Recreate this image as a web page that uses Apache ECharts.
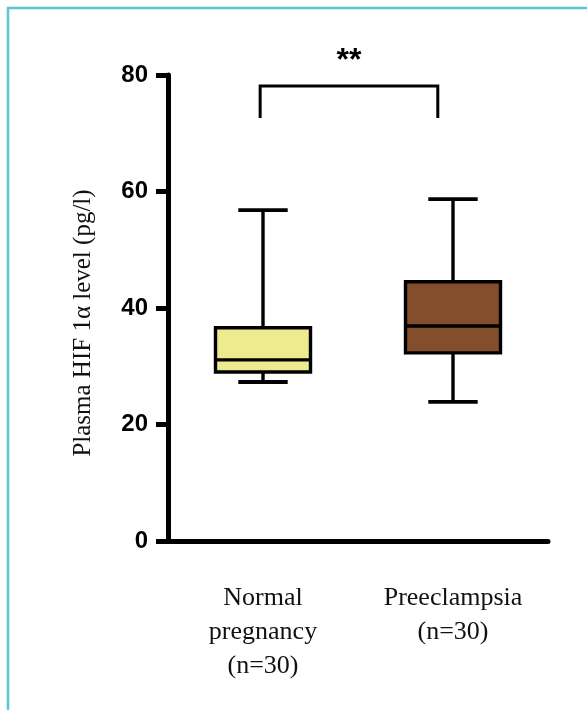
<!DOCTYPE html>
<html>
<head>
<meta charset="utf-8">
<script src="https://cdn.jsdelivr.net/npm/echarts@6/dist/echarts.min.js"></script>
<style>
  html, body { margin: 0; padding: 0; background: #fff; }
  #chart { width: 587px; height: 710px; }
</style>
</head>
<body>
<div id="chart"></div>
<script>
// groups on the x axis
const groups = ['Normal\npregnancy\n(n=30)', 'Preeclampsia\n(n=30)'];
// box stats per group: min, q1, median, q3, max
const lowWhisker = [27.3, 23.9];
const q1 = [29.0, 32.3];
const median = [31.1, 36.9];
const q3 = [36.6, 44.5];
const highWhisker = [56.8, 58.7];
const boxColors = ['#ecec8f', '#844e2c'];
const yTicks = [0, 20, 40, 60, 80];

// significance bracket, x in half-band units (0..4, category centres at 1 and 3)
const bracketX = [0.97, 2.84];
const bracketTop = 78.1;
const bracketFoot = 72.6;
const bracketText = '**';

const boxData = groups.map((g, i) => [i, lowWhisker[i], q1[i], median[i], q3[i], highWhisker[i]]);

const chart = echarts.init(document.getElementById('chart'));

function renderBox(params, api) {
  const idx = api.value(0);
  const band = api.size([1, 0])[0];
  const half = band * 0.25;
  const cap = band * 0.13;
  const pMin = api.coord([idx, api.value(1)]);
  const pQ1 = api.coord([idx, api.value(2)]);
  const pMed = api.coord([idx, api.value(3)]);
  const pQ3 = api.coord([idx, api.value(4)]);
  const pMax = api.coord([idx, api.value(5)]);
  const x = pMed[0];
  const line = { stroke: '#000', lineWidth: 3.4 };
  return {
    type: 'group',
    children: [
      { type: 'line', shape: { x1: x, y1: pMax[1], x2: x, y2: pQ3[1] }, style: line },
      { type: 'line', shape: { x1: x, y1: pQ1[1], x2: x, y2: pMin[1] }, style: line },
      { type: 'line', shape: { x1: x - cap, y1: pMax[1], x2: x + cap, y2: pMax[1] }, style: { stroke: '#000', lineWidth: 3.8 } },
      { type: 'line', shape: { x1: x - cap, y1: pMin[1], x2: x + cap, y2: pMin[1] }, style: { stroke: '#000', lineWidth: 3.8 } },
      {
        type: 'rect',
        shape: { x: x - half, y: pQ3[1], width: half * 2, height: pQ1[1] - pQ3[1] },
        style: { fill: boxColors[idx], stroke: '#000', lineWidth: 3.4 }
      },
      { type: 'line', shape: { x1: x - half, y1: pMed[1], x2: x + half, y2: pMed[1] }, style: line }
    ]
  };
}

function renderBracket(params, api) {
  const a = api.coord([api.value(0), api.value(2)]);
  const b = api.coord([api.value(1), api.value(2)]);
  const foot = api.coord([0, api.value(3)])[1];
  return {
    type: 'group',
    children: [
      {
        type: 'polyline',
        shape: { points: [[a[0], foot], [a[0], a[1]], [b[0], b[1]], [b[0], foot]] },
        style: { stroke: '#000', lineWidth: 3, fill: null }
      },
      {
        type: 'text',
        x: (a[0] + b[0]) / 2,
        y: a[1] - 9,
        style: {
          text: bracketText,
          fill: '#000',
          font: 'bold 32px "Liberation Sans", Arial, sans-serif',
          align: 'center',
          verticalAlign: 'bottom'
        }
      }
    ]
  };
}

chart.setOption({
  backgroundColor: '#fff',
  animation: false,
  graphic: [
    {
      type: 'polyline',
      shape: { points: [[8, 720], [8, 8], [600, 8]] },
      style: { stroke: '#5cc5d2', lineWidth: 2.5, fill: null }
    }
  ],
  grid: { left: 168, right: 39, top: 75, bottom: 169 },
  xAxis: [
    {
      type: 'category',
      data: groups,
      axisLine: { lineStyle: { color: '#000', width: 5 } },
      axisTick: { show: false },
      axisLabel: {
        color: '#111',
        fontFamily: '"Liberation Serif", "Times New Roman", serif',
        fontSize: 26,
        lineHeight: 34,
        margin: 40
      }
    },
    {
      type: 'value',
      min: 0,
      max: 4,
      show: false
    }
  ],
  yAxis: {
    type: 'value',
    min: 0,
    max: 80,
    interval: 20,
    name: 'Plasma HIF 1α level (pg/l)',
    nameLocation: 'middle',
    nameGap: 72,
    nameTextStyle: {
      color: '#111',
      fontFamily: '"Liberation Serif", "Times New Roman", serif',
      fontSize: 25,
      padding: [0, 30, 0, 0]
    },
    splitLine: { show: false },
    axisLine: { show: true, lineStyle: { color: '#000', width: 5 } },
    axisTick: { show: true, length: 12, lineStyle: { color: '#000', width: 5 } },
    axisLabel: {
      color: '#000',
      fontFamily: '"Liberation Sans", Arial, sans-serif',
      fontWeight: 'bold',
      fontSize: 24,
      margin: 20,
      formatter: v => (yTicks.indexOf(v) >= 0 ? String(v) : '')
    }
  },
  series: [
    {
      type: 'custom',
      xAxisIndex: 0,
      renderItem: renderBox,
      encode: { x: 0, y: [1, 2, 3, 4, 5] },
      data: boxData,
      z: 3
    },
    {
      type: 'custom',
      xAxisIndex: 1,
      renderItem: renderBracket,
      encode: { x: [0, 1], y: [2, 3] },
      data: [[bracketX[0], bracketX[1], bracketTop, bracketFoot]],
      z: 3
    }
  ]
});
</script>
</body>
</html>
